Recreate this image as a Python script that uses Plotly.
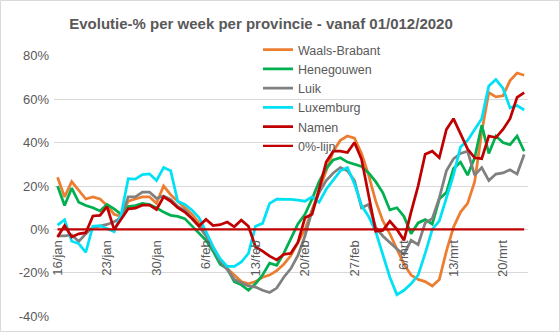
import pandas as pd
import plotly.graph_objects as go

start_date = "2021-01-16"
n_days = 67
dates = pd.date_range(start_date, periods=n_days)

waals_brabant = [24, 15, 22, 18, 14, 15, 14, 11, 7, 6,
                 13, 14, 15, 15, 12, 20, 16, 13, 10, 7,
                 3, -2, -8, -14, -18, -21, -24, -25, -24, -22,
                 -21, -19, -16, -12, -6, 0, 9, 18, 28, 36,
                 41, 43, 42, 35, 25, 13, 4, -2, -9, -16,
                 -21, -23, -24, -26, -23, -10, 1, 8, 12, 22,
                 45, 63, 61, 61.5, 68.5, 72, 71]
henegouwen = [20, 11, 19, 12.5, 11, 10, 8.5, 11.5, 9.5, 7,
              10.5, 11, 12, 11.5, 10, 8, 6.5, 6, 5, 1.5,
              -1.5, -5, -10, -16, -18, -24, -25.5, -28, -25, -21,
              -15.5, -16.5, -11, -4, 2.5, 7, 14, 22, 28, 32,
              33, 31, 30, 29, 26, 22, 17, 9, 10, 6,
              -2, 3, 4.5, 2.5, 14, 17, 28, 31, 25, 33,
              48, 35, 43, 40, 39, 43, 36]
luik = [-3, -3, -2.5, -5.5, -2, 1, 1.5, 2.3, 3.5, 5.5,
        15, 15, 17.2, 17.2, 14.3, 15.4, 13.8, 10.6, 8.8, 5,
        1.5, -3, -9, -14.5, -18.5, -23, -24.5, -26, -26.5, -28,
        -29, -27, -22, -18, -12, -3, 8.5, 17, 22.5, 26,
        28.5, 27, 22.5, 10, 11.5, 1, -3, -6, -9, -11.5,
        -5, -7, 3, 5, 14.5, 27, 32.5, 35, 36, 25,
        28.5, 22.5, 25.5, 26, 27.5, 25.5, 34.5]
luxemburg = [2, 4.5, -5.4, -6.5, -10.5, 1.5, 1.8, 0.5, -1, 7,
             23.4, 23.2, 25.2, 25.6, 22.5, 28.5, 27, 13, 11.5, 9,
             5.5, -1, -8, -13.5, -17, -17, -15, -11, 1.5, 2.8,
             12, 14, 14, 13.8, 13.5, 13, 15, 12.5, 18.5, 22.5,
             27, 28.5, 21, 11, 6, -1, -12, -22, -30, -28,
             -25, -21, -11, 0, 4, 14, 25, 38, 41, 46,
             51, 66, 69, 65, 56, 57, 55]
namen = [-3.5, 1.8, -3.5, -2, -1.5, 6.2, 6.5, 10.5, 0, 5,
         9.5, 9.8, 11.2, 11.2, 9.2, 15, 13, 10, 8, 5,
         1.6, 4.6, 1.8, 2.2, 3.4, 1.2, 4.3, 1.5, -8, -10,
         -12.3, -14, -11.5, -11, -6, 5.4, 7, 18.5, 31, 36,
         36, 35.4, 40, 32.3, 16, -0.8, -0.5, 3.8, 0, -5,
         8, 20, 34.6, 36, 33, 46, 51, 44, 37, 33,
         32.6, 43, 42.3, 46, 51, 60.8, 63]
nul_lijn = [0] * n_days

series_names = ["Waals-Brabant", "Henegouwen", "Luik", "Luxemburg", "Namen", "0%-lijn"]
series_values = [waals_brabant, henegouwen, luik, luxemburg, namen, nul_lijn]
series_colors = ["#ED7D31", "#00B050", "#808080", "#00E1F5", "#C00000", "#C00000"]
series_widths = [2.75, 2.75, 2.75, 2.75, 2.75, 2.25]

tick_dates = ["2021-01-16", "2021-01-23", "2021-01-30", "2021-02-06", "2021-02-13",
              "2021-02-20", "2021-02-27", "2021-03-06", "2021-03-13", "2021-03-20"]
tick_labels = ["16/jan", "23/jan", "30/jan", "6/feb", "13/feb",
               "20/feb", "27/feb", "6/mrt", "13/mrt", "20/mrt"]
y_ticks = [-40, -20, 0, 20, 40, 60, 80]
y_labels = ["-40%", "-20%", "0%", "20%", "40%", "60%", "80%"]

title_text = "Evolutie-% per week per provincie - vanaf 01/012/2020"

FONT = "Liberation Sans, Arial, sans-serif"
TXT = "#595959"

W, H = 560, 332
ml, mr, mt, mb = 54, 32, 55, 15
pw, ph = W - ml - mr, H - mt - mb

fig = go.Figure()
for name, vals, col, w in zip(series_names, series_values, series_colors, series_widths):
    fig.add_trace(go.Scatter(x=dates, y=vals, mode="lines", name=name,
                             line=dict(color=col, width=w)))

fig.update_layout(
    width=W, height=H,
    margin=dict(l=ml, r=mr, t=mt, b=mb, autoexpand=False),
    paper_bgcolor="white", plot_bgcolor="white",
    font=dict(family=FONT, color=TXT, size=13),
    title=dict(text="<b>" + title_text + "</b>", x=261 / W, xanchor="center",
               y=1 - 24 / H, yanchor="middle",
               font=dict(family=FONT, size=15, color=TXT)),
    showlegend=True,
    legend=dict(x=(258 - ml) / pw, xanchor="left", y=1 + (mt - 35) / ph, yanchor="top",
                bgcolor="rgba(0,0,0,0)", font=dict(family=FONT, size=12.5, color=TXT),
                tracegroupgap=0),
    xaxis=dict(type="date", range=["2021-01-15 12:00", "2021-03-23 13:00"],
               tickvals=tick_dates, ticktext=tick_labels, tickangle=-90,
               showgrid=False, zeroline=False, showline=False, ticks="",
               anchor="free", position=1 / 3, automargin=False,
               ticklabelstandoff=7,
               tickfont=dict(family=FONT, size=13, color=TXT)),
    yaxis=dict(range=[-40.3, 80.3], tickvals=y_ticks, ticktext=y_labels,
               showgrid=True, gridcolor="#D9D9D9", gridwidth=1, zeroline=False,
               showline=False, ticks="", ticklabelstandoff=4, automargin=False,
               tickfont=dict(family=FONT, size=13, color=TXT)),
    shapes=[dict(type="rect", xref="paper", yref="paper",
                 x0=(-ml + 0.5) / pw, x1=(W - ml - 0.5) / pw,
                 y0=(-mb + 0.5) / ph, y1=(H - mb - 0.5) / ph,
                 line=dict(color="#D9D9D9", width=1), fillcolor="rgba(0,0,0,0)",
                 layer="below")],
)

fig.write_html("out.html")
